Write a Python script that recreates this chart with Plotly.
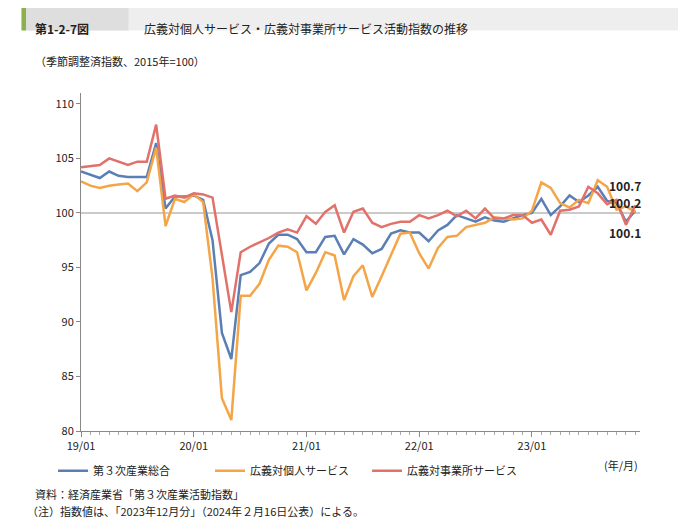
import plotly.graph_objects as go

months = list(range(60))
tick_pos = [0, 12, 24, 36, 48]
tick_labels = ["19/01", "20/01", "21/01", "22/01", "23/01"]

total = [103.8, 103.5, 103.2, 103.8, 103.4, 103.3, 103.3, 103.3, 106.4, 100.4,
         101.5, 101.5, 101.6, 101.2, 97.5, 89.0, 86.6, 94.3, 94.6, 95.4,
         97.2, 98.0, 98.0, 97.6, 96.4, 96.4, 97.8, 97.9, 96.2, 97.6,
         97.1, 96.3, 96.7, 98.1, 98.4, 98.2, 98.2, 97.4, 98.4, 98.9,
         99.8, 99.5, 99.2, 99.6, 99.3, 99.2, 99.5, 99.8, 100.0, 101.3,
         99.8, 100.6, 101.6, 101.0, 101.6, 102.4, 101.1, 100.9, 99.2, 100.2]
personal = [102.9, 102.5, 102.3, 102.5, 102.6, 102.7, 102.0, 102.8, 106.0, 98.8,
            101.3, 101.0, 101.7, 101.0, 94.0, 83.0, 81.0, 92.4, 92.4, 93.5,
            95.7, 97.0, 96.9, 96.4, 92.9, 94.5, 96.4, 96.1, 92.0, 94.2,
            95.2, 92.3, 94.2, 96.1, 98.1, 98.2, 96.3, 94.9, 96.8, 97.8,
            97.9, 98.7, 98.9, 99.1, 99.6, 99.5, 99.4, 99.5, 100.2, 102.8,
            102.3, 100.9, 100.5, 101.2, 100.9, 103.0, 102.4, 100.3, 100.6, 100.1]
business = [104.2, 104.3, 104.4, 105.0, 104.7, 104.4, 104.7, 104.7, 108.1, 101.3,
            101.6, 101.4, 101.8, 101.7, 101.4, 96.0, 90.9, 96.4, 96.9, 97.3,
            97.7, 98.2, 98.5, 98.2, 99.7, 99.0, 100.1, 100.7, 98.2, 100.1,
            100.4, 99.1, 98.7, 99.0, 99.2, 99.2, 99.8, 99.5, 99.8, 100.2,
            99.7, 100.2, 99.5, 100.4, 99.5, 99.5, 99.8, 99.8, 99.1, 99.4,
            98.0, 100.2, 100.3, 100.6, 102.4, 101.8, 100.8, 101.2, 98.9, 100.7]

names = ["第３次産業総合", "広義対個人サービス", "広義対事業所サービス"]
colors = ["#5b7fb5", "#f4a548", "#e2716a"]
end_labels = ["100.7", "100.2", "100.1"]

FONT = "Noto Sans CJK JP"
fig = go.Figure()
for name, ys, c in zip(names, [total, personal, business], colors):
    fig.add_trace(go.Scatter(x=months, y=ys, mode="lines", name=name,
                             line=dict(color=c, width=2.5)))

fig.add_hline(y=100, line=dict(color="#b8b8b8", width=1.5), layer="below")

fig.update_layout(
    width=686, height=519,
    margin=dict(l=73, r=54, t=85, b=96),
    plot_bgcolor="white", paper_bgcolor="white",
    font=dict(family=FONT, size=11, color="#222"),
    showlegend=True,
    legend=dict(orientation="h", x=-0.05, y=-0.075, xanchor="left", yanchor="top",
                font=dict(size=11), entrywidth=112, itemwidth=30),
    xaxis=dict(range=[0, 59.5], tickmode="array", tickvals=tick_pos, ticktext=tick_labels,
               showgrid=False, showline=True, linecolor="#888", ticks="outside",
               ticklen=5, tickcolor="#888",
               minor=dict(dtick=1, tick0=0, ticks="outside", ticklen=3, tickcolor="#aaa"),
               tickfont=dict(size=11, color="#222")),
    yaxis=dict(range=[80, 111], tickvals=[80, 85, 90, 95, 100, 105, 110], showgrid=False,
               showline=True, linecolor="#888", ticks="outside", ticklen=4, tickcolor="#888",
               tickfont=dict(size=11, color="#222")),
)

# header band
fig.add_shape(type="rect", xref="paper", yref="paper", x0=-0.1065, x1=1.08,
              y0=1.185, y1=1.26, fillcolor="#eeeeee", line_width=0)
fig.add_shape(type="rect", xref="paper", yref="paper", x0=-0.1065, x1=-0.098,
              y0=1.185, y1=1.26, fillcolor="#8cb04a", line_width=0)
fig.add_shape(type="rect", xref="paper", yref="paper", x0=-0.098, x1=0.085,
              y0=1.185, y1=1.26, fillcolor="#dedede", line_width=0)
fig.add_annotation(xref="paper", yref="paper", x=-0.085, y=1.222, xanchor="left",
                   text="<b>第1-2-7図</b>", showarrow=False, font=dict(size=12))
fig.add_annotation(xref="paper", yref="paper", x=0.11, y=1.222, xanchor="left",
                   text="広義対個人サービス・広義対事業所サービス活動指数の推移",
                   showarrow=False, font=dict(size=12))
fig.add_annotation(xref="paper", yref="paper", x=-0.085, y=1.125, xanchor="left",
                   text="（季節調整済指数、2015年=100）", showarrow=False, font=dict(size=11))
fig.add_annotation(xref="paper", yref="paper", x=1.0, y=-0.13, xanchor="right",
                   text="(年/月)", showarrow=False, font=dict(size=11))
fig.add_annotation(xref="paper", yref="paper", x=-0.085, y=-0.215, xanchor="left",
                   text="資料：経済産業省「第３次産業活動指数」", showarrow=False, font=dict(size=11))
fig.add_annotation(xref="paper", yref="paper", x=-0.1, y=-0.265, xanchor="left",
                   text="（注）指数値は、「2023年12月分」（2024年２月16日公表）による。",
                   showarrow=False, font=dict(size=11))
for lab, yy in zip(end_labels, [102.5, 101.0, 98.2]):
    fig.add_annotation(x=57.9, y=yy, text="<b>" + lab + "</b>", showarrow=False,
                       xanchor="center", font=dict(size=12))

fig.write_html("out.html")
